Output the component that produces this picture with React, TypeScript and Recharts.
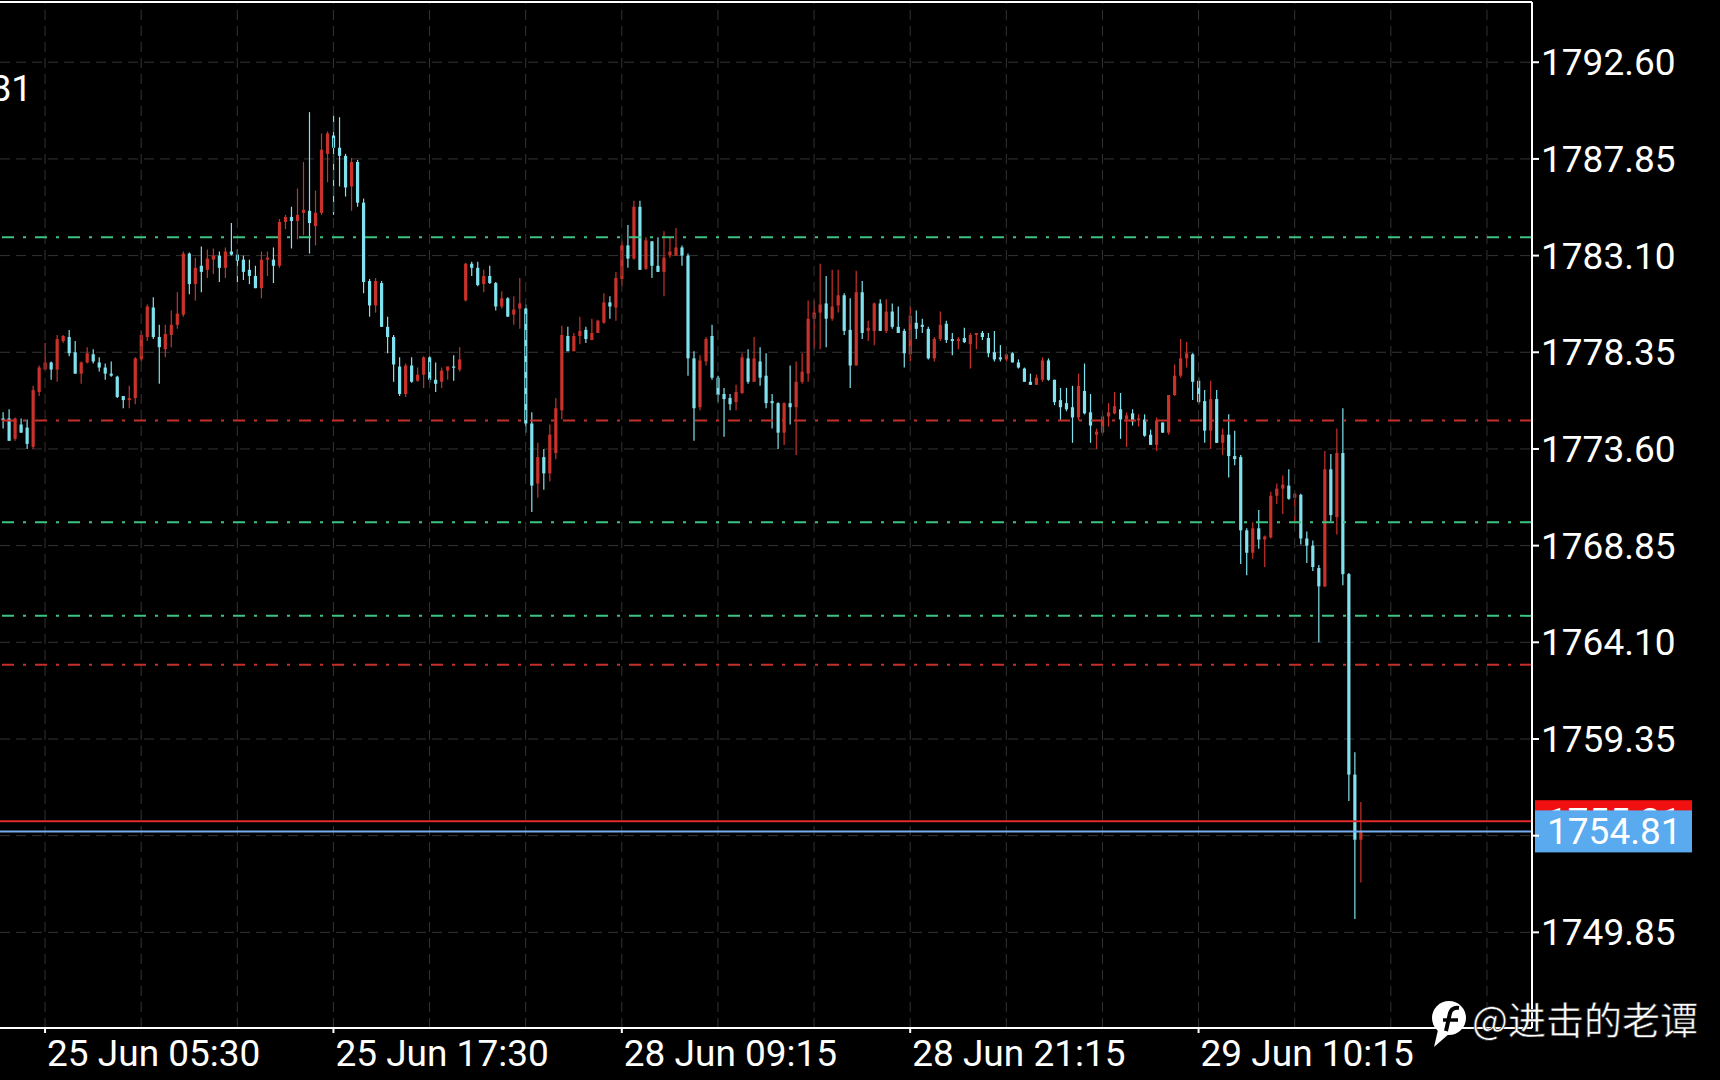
import React from 'react';
import { ComposedChart, Bar, XAxis, YAxis, CartesianGrid, ReferenceLine } from 'recharts';

// ---- data (M15 candles) ----
const opens = [
  1775.1, 1775.1, 1774.1, 1774.8, 1774.65, 1773.7, 1776.4, 1777.5, 1777.85, 1777.5,
  1778.9, 1779.1, 1778.35, 1777.3, 1777.85, 1778.25, 1777.85, 1777.6, 1777.3, 1777.15,
  1776.2, 1776.0, 1776.1, 1778.0, 1779.1, 1780.55, 1779.1, 1778.5, 1779.2, 1779.7,
  1780.2, 1783.2, 1781.7, 1782.6, 1782.4, 1782.9, 1783.1, 1782.5, 1783.3, 1783.15,
  1782.9, 1782.4, 1782.1, 1781.5, 1782.9, 1782.9, 1782.6, 1784.75, 1785.0, 1784.8,
  1785.2, 1785.3, 1784.55, 1785.2, 1788.1, 1789.0, 1788.4, 1788.0, 1786.5, 1787.7,
  1785.7, 1781.85, 1780.65, 1781.75, 1779.6, 1779.1, 1777.65, 1776.3, 1777.7, 1776.95,
  1777.25, 1778.1, 1777.0, 1776.9, 1777.45, 1777.65, 1777.5, 1780.9, 1782.7, 1782.5,
  1781.7, 1782.1, 1781.75, 1780.6, 1781.0, 1780.2, 1780.5, 1780.5, 1774.85, 1771.9,
  1773.2, 1772.4, 1773.4, 1775.5, 1779.15, 1778.4, 1779.15, 1779.45, 1778.95, 1779.3,
  1779.8, 1780.8, 1780.55, 1781.95, 1783.6, 1782.95, 1785.5, 1782.45, 1783.8, 1782.6,
  1782.3, 1783.1, 1783.1, 1783.5, 1783.1, 1778.05, 1775.65, 1777.9, 1779.15, 1777.1,
  1776.3, 1776.1, 1775.9, 1776.35, 1778.05, 1776.9, 1777.9, 1777.2, 1775.95, 1775.85,
  1774.4, 1775.85, 1775.65, 1776.9, 1777.3, 1780.0, 1780.3, 1780.75, 1780.0, 1780.65,
  1781.15, 1779.45, 1777.7, 1781.3, 1779.4, 1779.4, 1780.75, 1779.4, 1780.35, 1779.6,
  1779.4, 1778.25, 1779.8, 1779.7, 1779.5, 1778.05, 1779.0, 1779.75, 1779.0, 1778.9,
  1779.05, 1778.75, 1779.2, 1779.3, 1779.05, 1778.35, 1778.1, 1778.0, 1778.3, 1777.85,
  1777.55, 1776.9, 1776.75, 1777.0, 1777.95, 1777.0, 1776.0, 1775.85, 1775.65, 1775.15,
  1776.45, 1775.4, 1774.3, 1774.4, 1775.2, 1775.35, 1775.55, 1775.05, 1775.35, 1775.0,
  1775.05, 1774.3, 1773.8, 1774.9, 1774.4, 1776.25, 1777.2, 1778.05, 1778.25, 1776.95,
  1775.95, 1774.5, 1776.05, 1773.9, 1774.3, 1773.25, 1773.2, 1769.6, 1768.5, 1769.7,
  1769.15, 1769.25, 1771.3, 1771.65, 1771.8, 1771.2, 1771.35, 1769.2, 1768.85, 1767.75,
  1766.85, 1772.6, 1770.25, 1773.4, 1767.45, 1757.6, 1754.4,
];
const highs = [
  1775.4, 1775.55, 1775.15, 1775.1, 1775.05, 1776.7, 1777.7, 1778.8, 1777.9, 1779.2,
  1779.2, 1779.45, 1778.9, 1777.9, 1778.6, 1778.5, 1778.1, 1777.8, 1777.9, 1777.2,
  1776.2, 1776.7, 1778.1, 1779.4, 1780.7, 1781.05, 1779.7, 1779.7, 1780.4, 1781.3,
  1783.3, 1783.25, 1783.0, 1783.55, 1783.4, 1783.45, 1783.3, 1783.5, 1784.7, 1783.4,
  1783.1, 1782.9, 1782.6, 1783.3, 1783.3, 1783.5, 1784.9, 1785.1, 1785.5, 1786.4,
  1787.7, 1790.15, 1786.3, 1789.1, 1789.2, 1790.0, 1789.9, 1788.1, 1787.9, 1787.8,
  1785.9, 1781.95, 1782.0, 1781.85, 1780.1, 1779.2, 1778.1, 1777.8, 1778.1, 1777.6,
  1778.15, 1778.15, 1777.85, 1777.6, 1777.65, 1778.2, 1778.6, 1782.75, 1782.8, 1782.8,
  1782.4, 1782.6, 1781.8, 1781.35, 1781.05, 1781.1, 1782.0, 1780.7, 1775.4, 1773.9,
  1773.6, 1774.8, 1776.1, 1779.65, 1779.6, 1779.3, 1780.1, 1779.6, 1780.0, 1779.95,
  1781.25, 1781.1, 1782.3, 1783.8, 1784.6, 1785.8, 1785.8, 1784.0, 1783.8, 1784.0,
  1784.3, 1784.0, 1784.45, 1783.6, 1783.2, 1778.4, 1778.2, 1779.1, 1779.7, 1777.2,
  1776.6, 1776.3, 1776.75, 1778.3, 1778.5, 1779.1, 1778.6, 1778.3, 1776.3, 1775.9,
  1775.9, 1777.7, 1777.9, 1778.3, 1780.9, 1780.9, 1782.7, 1782.1, 1782.4, 1782.4,
  1781.25, 1781.0, 1782.35, 1781.85, 1779.9, 1780.8, 1780.95, 1780.95, 1780.75, 1780.6,
  1779.5, 1780.6, 1780.4, 1780.0, 1779.6, 1779.1, 1780.35, 1779.9, 1779.3, 1779.1,
  1779.55, 1779.3, 1779.3, 1779.4, 1779.3, 1779.4, 1778.7, 1778.3, 1778.35, 1778.0,
  1777.6, 1777.3, 1777.25, 1778.1, 1778.05, 1777.0, 1776.6, 1776.6, 1776.7, 1777.3,
  1777.8, 1776.3, 1774.6, 1775.3, 1775.85, 1776.4, 1776.35, 1775.4, 1775.55, 1775.3,
  1775.3, 1774.55, 1775.15, 1774.9, 1776.25, 1777.75, 1779.0, 1778.85, 1778.3, 1777.1,
  1776.5, 1776.95, 1776.5, 1774.6, 1775.3, 1774.5, 1773.3, 1769.7, 1770.0, 1770.6,
  1769.35, 1771.5, 1771.9, 1772.3, 1772.6, 1771.45, 1771.4, 1769.55, 1769.1, 1767.9,
  1773.5, 1773.35, 1774.6, 1775.6, 1767.5, 1758.7, 1756.25,
];
const lows = [
  1774.6, 1774.0, 1774.0, 1774.4, 1773.6, 1773.6, 1776.2, 1777.5, 1777.0, 1776.9,
  1778.8, 1778.15, 1777.3, 1776.8, 1777.8, 1777.8, 1777.4, 1777.0, 1777.15, 1776.1,
  1775.6, 1775.6, 1775.8, 1777.9, 1778.9, 1779.0, 1776.8, 1778.1, 1778.6, 1779.5,
  1780.1, 1781.2, 1780.9, 1781.3, 1782.0, 1782.2, 1781.8, 1782.0, 1783.1, 1781.8,
  1781.9, 1781.7, 1781.5, 1781.0, 1782.1, 1781.75, 1782.5, 1784.4, 1783.45, 1783.9,
  1784.1, 1783.2, 1783.6, 1785.1, 1786.7, 1785.1, 1786.5, 1786.0, 1785.3, 1785.5,
  1781.25, 1780.1, 1780.3, 1779.6, 1778.3, 1776.9, 1776.2, 1776.15, 1776.85, 1776.9,
  1776.6, 1776.85, 1776.4, 1776.6, 1777.0, 1776.95, 1777.4, 1780.85, 1782.1, 1781.6,
  1781.3, 1781.7, 1780.4, 1780.5, 1780.1, 1779.7, 1779.5, 1774.4, 1770.5, 1771.2,
  1771.6, 1772.0, 1773.1, 1775.05, 1778.4, 1778.4, 1778.75, 1778.8, 1778.95, 1779.3,
  1779.75, 1780.0, 1779.9, 1781.6, 1782.5, 1782.9, 1782.4, 1782.4, 1782.0, 1782.3,
  1781.1, 1783.0, 1783.1, 1782.6, 1777.2, 1774.0, 1775.5, 1777.7, 1777.0, 1775.9,
  1774.2, 1775.5, 1775.5, 1776.3, 1776.8, 1776.9, 1776.7, 1775.6, 1774.6, 1773.6,
  1773.8, 1774.8, 1773.3, 1776.8, 1776.9, 1778.5, 1778.5, 1778.6, 1779.9, 1780.3,
  1779.2, 1776.6, 1777.7, 1779.0, 1778.9, 1778.7, 1779.4, 1779.3, 1779.5, 1779.3,
  1777.6, 1777.9, 1779.0, 1779.3, 1778.0, 1777.9, 1778.9, 1778.8, 1778.2, 1778.5,
  1778.8, 1777.55, 1778.5, 1778.95, 1778.1, 1777.9, 1777.9, 1777.9, 1777.85, 1777.55,
  1776.9, 1776.75, 1776.75, 1776.9, 1776.95, 1775.75, 1775.0, 1775.45, 1773.9, 1775.0,
  1775.3, 1773.9, 1773.6, 1774.3, 1774.7, 1775.3, 1774.1, 1773.7, 1774.75, 1774.7,
  1774.2, 1773.8, 1773.5, 1774.4, 1774.3, 1776.2, 1777.1, 1777.6, 1776.0, 1775.8,
  1773.9, 1773.6, 1773.9, 1773.3, 1772.2, 1772.8, 1767.95, 1767.4, 1768.2, 1768.7,
  1767.8, 1769.2, 1770.9, 1770.4, 1771.1, 1770.0, 1768.9, 1768.0, 1767.6, 1764.1,
  1766.8, 1770.05, 1769.4, 1766.9, 1756.3, 1750.5, 1752.3,
];
const closes = [
  1775.0, 1774.0, 1775.1, 1774.4, 1773.85, 1776.5, 1777.6, 1777.85, 1777.5, 1779.0,
  1779.15, 1778.3, 1777.3, 1777.85, 1778.3, 1777.9, 1777.6, 1777.3, 1777.2, 1776.15,
  1776.0, 1776.1, 1778.05, 1779.2, 1780.6, 1779.1, 1778.6, 1779.25, 1779.7, 1780.25,
  1783.2, 1781.7, 1782.5, 1782.3, 1782.95, 1783.1, 1782.5, 1783.3, 1783.15, 1782.85,
  1782.3, 1782.1, 1781.5, 1782.9, 1783.0, 1782.6, 1784.75, 1785.0, 1784.8, 1785.1,
  1785.35, 1784.7, 1785.2, 1788.3, 1789.1, 1788.4, 1788.0, 1786.45, 1787.7, 1785.7,
  1781.8, 1780.65, 1781.85, 1779.6, 1779.1, 1777.75, 1776.3, 1777.7, 1776.9, 1777.25,
  1778.1, 1777.0, 1776.8, 1777.45, 1777.65, 1777.6, 1778.0, 1782.7, 1782.5, 1781.65,
  1782.1, 1781.75, 1780.6, 1781.0, 1780.1, 1780.45, 1780.75, 1774.85, 1771.8, 1773.2,
  1772.4, 1774.3, 1775.6, 1779.2, 1778.4, 1779.15, 1779.4, 1779.0, 1779.3, 1779.9,
  1780.8, 1780.6, 1782.0, 1783.6, 1782.95, 1785.5, 1782.4, 1783.85, 1782.6, 1782.3,
  1783.0, 1783.3, 1783.5, 1783.1, 1778.05, 1775.6, 1777.95, 1779.0, 1777.1, 1776.25,
  1776.05, 1775.8, 1776.4, 1778.1, 1776.9, 1778.05, 1777.1, 1775.85, 1775.85, 1774.4,
  1775.85, 1775.65, 1776.9, 1777.4, 1780.0, 1780.3, 1780.7, 1780.0, 1780.6, 1781.15,
  1779.4, 1777.7, 1781.3, 1779.3, 1779.55, 1780.75, 1779.4, 1780.35, 1779.6, 1779.3,
  1778.3, 1780.15, 1779.5, 1779.6, 1778.05, 1779.0, 1779.7, 1778.95, 1778.9, 1779.0,
  1778.85, 1779.2, 1779.3, 1779.1, 1778.3, 1778.0, 1778.0, 1778.25, 1777.85, 1777.6,
  1776.9, 1776.75, 1777.1, 1777.95, 1777.0, 1775.9, 1775.65, 1775.55, 1775.15, 1776.7,
  1775.35, 1774.75, 1774.45, 1775.2, 1775.4, 1775.7, 1775.05, 1775.25, 1774.95, 1775.1,
  1774.25, 1773.8, 1775.0, 1774.4, 1776.25, 1777.2, 1778.05, 1778.3, 1776.9, 1775.9,
  1774.5, 1776.05, 1773.9, 1774.3, 1773.25, 1773.1, 1769.6, 1768.5, 1769.7, 1769.15,
  1769.3, 1771.3, 1771.65, 1771.85, 1771.15, 1771.4, 1769.2, 1768.85, 1767.8, 1766.85,
  1772.6, 1770.35, 1773.4, 1767.45, 1757.6, 1754.4, 1754.81,
];

const totalSlots = 255; // candle slots across the plot, incl. empty right margin
const xLabels = [
  { i: 7, text: '25 Jun 05:30' },
  { i: 55, text: '25 Jun 17:30' },
  { i: 103, text: '28 Jun 09:15' },
  { i: 151, text: '28 Jun 21:15' },
  { i: 199, text: '29 Jun 10:15' },
];
const gridSlots = [7, 23, 39, 55, 71, 87, 103, 119, 135, 151, 167, 183, 199, 215, 231, 247];
const yTicks = [1792.6, 1787.85, 1783.1, 1778.35, 1773.6, 1768.85, 1764.1, 1759.35, 1754.6, 1749.85];
const hiddenTick = 1754.6;
const yDomain = [1745.15, 1795.56];
const greenLevels = [1784.0, 1770.0, 1765.4];
const redLevels = [1775.0, 1763.0];
const askPrice = 1755.31;
const bidPrice = 1754.81;

const RED = '#c8322a';
const CYAN = '#80e2ee';
const GRID = '#343434';
const FONT = 'Roboto, "Noto Sans", sans-serif';

const data = Array.from({ length: totalSlots }, (_, i) =>
  i < opens.length
    ? { i, o: opens[i], h: highs[i], l: lows[i], c: closes[i], range: [lows[i], highs[i]] }
    : { i, range: null }
);

const Candle = (props: any) => {
  const { x, y, width, height, payload } = props;
  if (!payload || payload.o == null) return null;
  const top = Math.min(y, y + height);
  const bot = Math.max(y, y + height);
  const { o, h, l, c } = payload;
  const span = h - l;
  const py = (v: number) => (span === 0 ? top : top + ((h - v) / span) * (bot - top));
  const color = c >= o ? RED : CYAN;
  const cx = x + width / 2;
  const bTop = py(Math.max(o, c));
  const bBot = py(Math.min(o, c));
  return (
    <g>
      <line x1={cx} x2={cx} y1={top} y2={bot} stroke={color} strokeWidth={1.2} />
      <rect x={cx - 1.6} y={bTop} width={3.2} height={Math.max(1.2, bBot - bTop)} fill={color} />
    </g>
  );
};

const XTick = (props: any) => {
  const { x, y, payload } = props;
  const lab = xLabels.find((d) => d.i === payload.value);
  if (!lab) return null;
  return (
    <g>
      <line x1={x} x2={x} y1={y} y2={y + 5} stroke="#fff" strokeWidth={2} />
      <text x={x + 2} y={y + 38} fill="#fff" fontSize={37} fontFamily={FONT}>
        {lab.text}
      </text>
    </g>
  );
};

const YTick = (props: any) => {
  const { x, y, payload } = props;
  if (Math.abs(payload.value - hiddenTick) < 1e-6) return null;
  return (
    <text x={x} y={y} dy={13} fill="#fff" fontSize={37} fontFamily={FONT} textAnchor="start">
      {Number(payload.value).toFixed(2)}
    </text>
  );
};

const PriceTag = (props: any) => {
  const { viewBox, color, value } = props;
  if (!viewBox) return null;
  const bx = viewBox.x + viewBox.width + 3;
  const by = viewBox.y;
  return (
    <g>
      <rect x={bx} y={by - 21} width={157} height={42} fill={color} />
      <text x={bx + 12} y={by + 13} fill="#fff" fontSize={37} fontFamily={FONT}>
        {value.toFixed(2)}
      </text>
    </g>
  );
};

export default function App() {
  return (
    <div style={{ position: 'absolute', left: 0, top: 0, width: 1720, height: 1080, background: '#000', overflow: 'hidden' }}>
      <ComposedChart
        width={1720}
        height={1080}
        data={data}
        margin={{ top: 2, right: 0, bottom: 0, left: 0 }}
        barCategoryGap="10%"
      >
        <CartesianGrid vertical={false} stroke={GRID} strokeDasharray="10 6" />
        {gridSlots.map((g) => (
          <ReferenceLine key={'g' + g} x={g} stroke={GRID} strokeDasharray="10 6" />
        ))}
        <XAxis
          dataKey="i"
          type="category"
          interval={0}
          tick={<XTick />}
          tickLine={false}
          tickSize={0}
          tickMargin={0}
          height={52}
          axisLine={{ stroke: '#fff', strokeWidth: 2 }}
        />
        <YAxis
          orientation="right"
          type="number"
          width={188}
          domain={yDomain}
          allowDataOverflow
          ticks={yTicks}
          interval={0}
          tick={<YTick />}
          tickSize={7}
          tickMargin={2}
          tickLine={{ stroke: '#fff', strokeWidth: 2 }}
          axisLine={{ stroke: '#fff', strokeWidth: 2 }}
        />
        <ReferenceLine y={yDomain[1]} stroke="#fff" strokeWidth={2} />
        {greenLevels.map((v) => (
          <ReferenceLine key={'gl' + v} y={v} stroke="#3fc282" strokeWidth={2} strokeDasharray="12 9 3 9" />
        ))}
        {redLevels.map((v) => (
          <ReferenceLine key={'rl' + v} y={v} stroke="#c4302a" strokeWidth={2} strokeDasharray="12 9 3 9" />
        ))}
        <Bar dataKey="range" shape={<Candle />} isAnimationActive={false} />
        <ReferenceLine y={askPrice} stroke="#e32b2b" strokeWidth={2} label={<PriceTag color="#f01010" value={askPrice} />} />
        <ReferenceLine y={bidPrice} stroke="#74aef0" strokeWidth={2} label={<PriceTag color="#5aaaf0" value={bidPrice} />} />
      </ComposedChart>
      <svg width={1720} height={1080} style={{ position: 'absolute', left: 0, top: 0, pointerEvents: 'none' }}>
        <text x={32} y={101} fill="#fff" fontSize={37} fontFamily={FONT} textAnchor="end">
          {bidPrice.toFixed(2)}
        </text>
        <g>
          <circle cx={1449} cy={1018} r={17} fill="#fff" />
          <path d="M1438 1030 L1434 1047 L1450 1033 Z" fill="#fff" />
          <path d="M1446 1031 L1450 1013 Q1452 1007 1459 1008" stroke="#000" strokeWidth={4} fill="none" />
          <path d="M1443 1020 L1458 1020" stroke="#000" strokeWidth={3.5} />
        </g>
        <text
          x={1472}
          y={1034}
          fill="#fff"
          fontSize={38}
          fontFamily='"Noto Sans CJK SC", sans-serif'
          stroke="#222"
          strokeWidth={0.6}
        >
          @进击的老谭
        </text>
      </svg>
    </div>
  );
}
